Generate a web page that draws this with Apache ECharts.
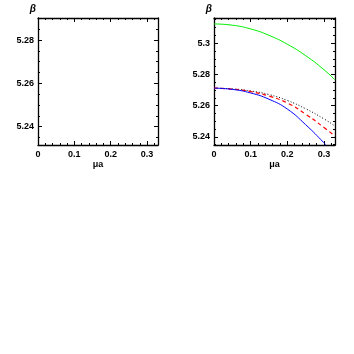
<!DOCTYPE html>
<html><head><meta charset="utf-8">
<script src="https://cdn.jsdelivr.net/npm/echarts@6/dist/echarts.min.js"></script>
<style>html,body{margin:0;padding:0;background:#fff}#c{width:354px;height:354px}</style>
</head><body><div id="c"></div>
<script>
// x values (mu a) and beta values
const muVals = [0, 0.05, 0.1, 0.15, 0.2, 0.25, 0.3, 0.33];
const greenBeta = [5.3123, 5.3115, 5.3091, 5.3050, 5.2993, 5.2920, 5.2830, 5.2765];
const redBeta   = [5.2712, 5.2706, 5.2690, 5.2661, 5.2617, 5.2545, 5.2460, 5.2405];
const blackBeta = [5.2712, 5.2707, 5.2694, 5.2671, 5.2633, 5.2580, 5.2515, 5.2469];
const blueMu    = [0, 0.05, 0.1, 0.15, 0.2, 0.25, 0.3, 0.304];
const blueBeta  = [5.2712, 5.2704, 5.2681, 5.2641, 5.2578, 5.2478, 5.2362, 5.2350];
// axis ranges
const xRange = [0, 0.33];
const yRangeLeft = [5.2315, 5.2902];
const yRangeRight = [5.2348, 5.3161];

const pairs = (xs, ys) => xs.map((x, i) => [x, ys[i]]);
const font = 'Liberation Sans, Arial, sans-serif';
const lineStyle = { color: '#000', width: 1.3 };
const tickStyle = { color: '#000', width: 1 };

function xAx(gi, pos, labels) {
  return {
    gridIndex: gi, type: 'value', position: pos, min: xRange[0], max: xRange[1], splitNumber: 3,
    axisLine: { show: true, onZero: false, lineStyle },
    axisTick: { show: true, inside: true, length: 4, lineStyle: tickStyle },
    minorTick: { show: true, splitNumber: 5, length: 2, lineStyle: tickStyle },
    splitLine: { show: false },
    axisLabel: { show: labels, color: '#000', fontSize: 9, fontWeight: 'bold', fontFamily: font, margin: 5, showMaxLabel: false,
      formatter: v => (Math.round(v * 10) / 10).toString() },
    name: labels ? 'μa' : '', nameLocation: 'middle', nameGap: 15,
    nameTextStyle: { color: '#000', fontSize: 9, fontWeight: 'bold', fontFamily: font }
  };
}
function yAx(gi, pos, range, split, labels) {
  return {
    gridIndex: gi, type: 'value', position: pos, min: range[0], max: range[1], splitNumber: split,
    axisLine: { show: true, onZero: false, lineStyle },
    axisTick: { show: true, inside: true, length: 4, lineStyle: tickStyle },
    minorTick: { show: true, splitNumber: 4, length: 2, lineStyle: tickStyle },
    splitLine: { show: false },
    axisLabel: { show: labels, color: '#000', fontSize: 9, fontWeight: 'bold', fontFamily: font, margin: 4,
      showMinLabel: false, showMaxLabel: false,
      formatter: v => (Math.round(v * 100) / 100).toString() },
    name: labels ? 'β' : '', nameLocation: 'end', nameGap: 4,
    nameTextStyle: { color: '#000', fontSize: 10, fontFamily: font, fontStyle: 'italic', fontWeight: 'bold',
      align: 'right', padding: [0, 2, 0, 0] }
  };
}

const chart = echarts.init(document.getElementById('c'), null, { renderer: 'canvas' });
chart.setOption({
  animation: false,
  backgroundColor: '#fff',
  grid: [
    { left: 38, top: 18, width: 120, height: 127 },
    { left: 214, top: 18, width: 121, height: 127 }
  ],
  xAxis: [xAx(0, 'bottom', true), xAx(0, 'top', false), xAx(1, 'bottom', true), xAx(1, 'top', false)],
  yAxis: [yAx(0, 'left', yRangeLeft, 3, true), yAx(0, 'right', yRangeLeft, 3, false),
          yAx(1, 'left', yRangeRight, 4, true), yAx(1, 'right', yRangeRight, 4, false)],
  series: [
    { type: 'line', xAxisIndex: 2, yAxisIndex: 2, data: pairs(muVals, greenBeta), smooth: true, showSymbol: false,
      lineStyle: { color: '#00f000', width: 1 } },
    { type: 'line', xAxisIndex: 2, yAxisIndex: 2, data: pairs(muVals, blackBeta), smooth: true, showSymbol: false,
      lineStyle: { color: '#000', width: 1, type: [1, 2] } },
    { type: 'line', xAxisIndex: 2, yAxisIndex: 2, data: pairs(muVals, redBeta), smooth: true, showSymbol: false,
      lineStyle: { color: '#ff0000', width: 1.2, type: [4, 3] } },
    { type: 'line', xAxisIndex: 2, yAxisIndex: 2, data: pairs(blueMu, blueBeta), smooth: true, showSymbol: false,
      lineStyle: { color: '#0000ff', width: 1 } }
  ]
});
</script></body></html>
